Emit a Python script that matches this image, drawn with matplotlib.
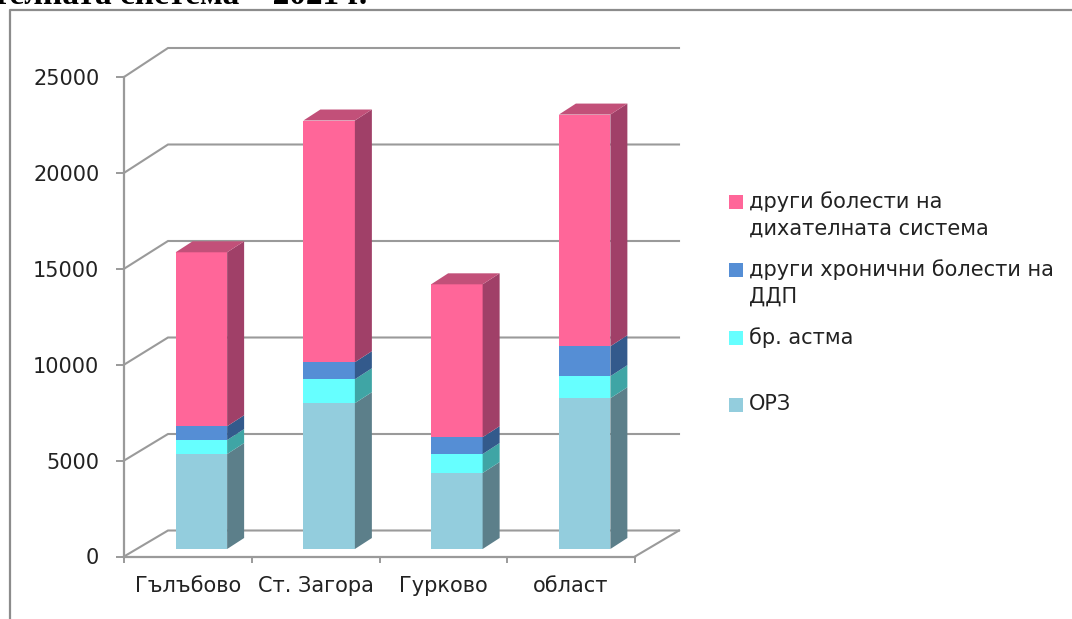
import numpy as np
import matplotlib
matplotlib.use("Agg")
import matplotlib.pyplot as plt
from matplotlib.lines import Line2D
from matplotlib.patches import Rectangle

categories = ['Гълъбово', 'Ст. Загора', 'Гурково', 'област']
orz = [4950, 7600, 3960, 7860]
astma = [730, 1250, 990, 1150]
hron = [720, 890, 880, 1560]
drugi = [9070, 12600, 7970, 12080]
yticks = [0, 5000, 10000, 15000, 20000, 25000]

series = [orz, astma, hron, drugi]
front = ['#93CDDD', '#66FFFF', '#558ED5', '#FF6699']
side = ['#5C7F8A', '#3FA5A5', '#335A8C', '#A04068']
top_col = '#C25079'
grid_col = '#9A9A9A'
W, H = 1072, 619

fig = plt.figure(figsize=(W / 100, H / 100), dpi=100)
ax = fig.add_axes([124 / W, 1 - 556.5 / H, (635 - 124) / W, (556.5 - 77) / H])
ax.set_xlim(0, 4)
ax.set_ylim(0, 25000)
ax.patch.set_visible(False)

# pixel sizes of the fake 3d, turned into data units
px_x = 4 / (635 - 124)
px_y = 25000 / (556.5 - 77)
wall_dx = 44 * px_x
bar_w = 51.5 * px_x
bar_dx = 17 * px_x
bar_dy = 11 * px_y
base_dx = 13.5 * px_x
base_dy = 7.5 * px_y


def wall_dy(v):
    return (26 + 3 * v / 25000) * px_y


# back wall and floor
for v in yticks:
    ax.plot([0, wall_dx, 4 + wall_dx], [v, v + wall_dy(v), v + wall_dy(v)],
            color=grid_col, lw=1.5, clip_on=False, zorder=1, solid_joinstyle='miter')
ax.plot([4, 4 + wall_dx], [0, wall_dy(0)], color=grid_col, lw=1.5, clip_on=False, zorder=1)

# bars
for i in range(len(categories)):
    x = i + 0.5 + base_dx
    bottom = base_dy
    for j, vals in enumerate(series):
        v = vals[i]
        ax.bar(x, v, bar_w, bottom=bottom, color=front[j], clip_on=False, zorder=3)
        xr = x + bar_w / 2
        ax.fill([xr, xr + bar_dx, xr + bar_dx, xr],
                [bottom, bottom + bar_dy, bottom + v + bar_dy, bottom + v],
                color=side[j], lw=0, clip_on=False, zorder=3)
        bottom += v
    xl = x - bar_w / 2
    xr = x + bar_w / 2
    ax.fill([xl, xr, xr + bar_dx, xl + bar_dx],
            [bottom, bottom, bottom + bar_dy, bottom + bar_dy],
            color=top_col, lw=0, clip_on=False, zorder=3)

for s in ['top', 'right']:
    ax.spines[s].set_visible(False)
for s in ['left', 'bottom']:
    ax.spines[s].set_color(grid_col)
    ax.spines[s].set_linewidth(1.6)
    ax.spines[s].set_zorder(2)

ax.set_yticks(yticks)
ax.set_yticklabels([str(v) for v in yticks], fontsize=15, color='#222222')
ax.tick_params(axis='y', length=5.8, width=1.4, color=grid_col, pad=12)
ax.set_xticks(range(5))
ax.set_xticklabels([])
ax.set_xticks(np.arange(4) + 0.5, categories, minor=True, fontsize=15, color='#222222')
ax.tick_params(axis='x', which='major', length=4.5, width=1.4, color=grid_col)
ax.tick_params(axis='x', which='minor', length=0, pad=14)

# legend, uneven spacing as in the original
leg_labels = ['други болести на\nдихателната система', 'други хронични болести на\nДДП',
              'бр. астма', 'ОРЗ']
leg_y = [202, 270, 338, 405]
leg_cols = ['#FF6699', '#558ED5', '#66FFFF', '#93CDDD']
for lab, y, c in zip(leg_labels, leg_y, leg_cols):
    fig.add_artist(Rectangle((729 / W, 1 - (y + 7) / H), 14 / W, 14 / H, color=c, lw=0))
    fig.text(749 / W, 1 - (y - 10.5) / H, lab, fontsize=15, color='#222222', va='top',
             linespacing=1.42)

# outer frame of the picture and the cut off heading above it
fig.add_artist(Line2D([10 / W, 10 / W, 1], [0, 1 - 10 / H, 1 - 10 / H], color='#8C8C8C', lw=1.6))
fig.text(367 / W, 1 - 3.5 / H, 'телната система – 2021 г.', family='Liberation Serif',
         weight='bold', fontsize=24, ha='right', va='baseline', color='black')

fig.savefig('out.png', dpi=100)
